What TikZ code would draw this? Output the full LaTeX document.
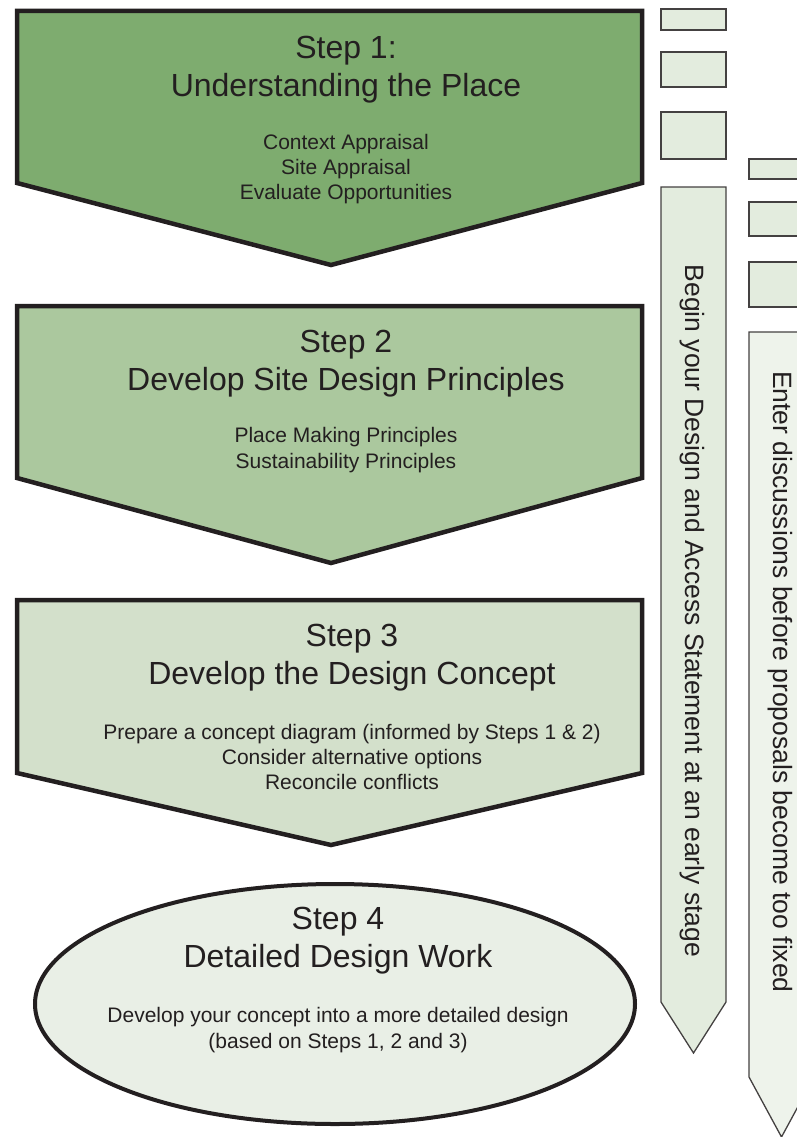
\documentclass[tikz,border=0pt]{standalone}
\usepackage{fontspec}
\setmainfont{Liberation Sans}
\usepackage{tikz}

\definecolor{contorno}{RGB}{35,31,32}
\definecolor{verdeA}{RGB}{126,172,111}
\definecolor{verdeB}{RGB}{171,200,158}
\definecolor{verdeC}{RGB}{211,224,203}
\definecolor{verdeD}{RGB}{233,239,230}
\definecolor{caixaverde}{RGB}{227,236,222}
\definecolor{caixaclara}{RGB}{238,243,235}

\begin{document}
\begin{tikzpicture}[x=1pt, y=-1pt,
    passo/.style={draw=contorno, line width=4.5pt, line join=miter},
    caixa/.style={draw=contorno!85, line width=1.3pt},
    titulo/.style={align=center, text=contorno, font=\fontsize{32}{38}\selectfont},
    corpo/.style={align=center, text=contorno, font=\fontsize{21}{25.3}\selectfont},
    lateral/.style={rotate=-90, text=contorno, font=\fontsize{26.5}{30}\selectfont}]
    \useasboundingbox (0,0) rectangle (796,1137);
    % passo 1
    \draw[passo, fill=verdeA] (17,11) -- (642,11) -- (642,183) -- (331,265) -- (17,183) -- cycle;
    \node[titulo] (t1) at (346,70) {Step 1:\\Understanding the Place};
    \node[corpo] (c1) at (346,169) {Context Appraisal\\Site Appraisal\\Evaluate Opportunities};
    % passo 2
    \draw[passo, fill=verdeB] (17,306) -- (642,306) -- (642,478) -- (331,563) -- (17,478) -- cycle;
    \node[titulo] (t2) at (346,364) {Step 2\\Develop Site Design Principles};
    \node[corpo] (c2) at (346,450) {Place Making Principles\\Sustainability Principles};
    % passo 3
    \draw[passo, fill=verdeC] (17,600) -- (642,600) -- (642,773) -- (331,845) -- (17,773) -- cycle;
    \node[titulo] (t3) at (352,658) {Step 3\\Develop the Design Concept};
    \node[corpo] (c3) at (352,757) {Prepare a concept diagram (informed by Steps 1 \& 2)\\Consider alternative options\\Reconcile conflicts};
    % passo 4 (elipse)
    \draw[draw=contorno, line width=4pt, fill=verdeD] (335,1004) ellipse [x radius=300pt, y radius=120pt];
    \node[titulo] (t4) at (338,941) {Step 4\\Detailed Design Work};
    \node[corpo] (c4) at (338,1030) {Develop your concept into a more detailed design\\(based on Steps 1, 2 and 3)};
    % coluna lateral 1
    \draw[caixa, fill=caixaverde] (661,9) rectangle (726,30);
    \draw[caixa, fill=caixaverde] (661,52) rectangle (726,87);
    \draw[caixa, fill=caixaverde] (661,112) rectangle (726,159);
    \draw[caixa, fill=caixaverde] (661,187) -- (726,187) -- (726,1002) -- (693.5,1053) -- (661,1002) -- cycle;
    \node[lateral] (l1) at (692,611) {Begin your Design and Access Statement at an early stage};
    % coluna lateral 2
    \draw[caixa, fill=caixaverde] (749,159) rectangle (814,179);
    \draw[caixa, fill=caixaverde] (749,202) rectangle (814,236);
    \draw[caixa, fill=caixaverde] (749,262) rectangle (814,307);
    \draw[caixa, fill=caixaclara] (749,332) -- (814,332) -- (814,1077) -- (781.5,1137) -- (749,1077) -- cycle;
    \node[lateral] (l2) at (780,682) {Enter discussions before proposals become too fixed};
\end{tikzpicture}
\end{document}
